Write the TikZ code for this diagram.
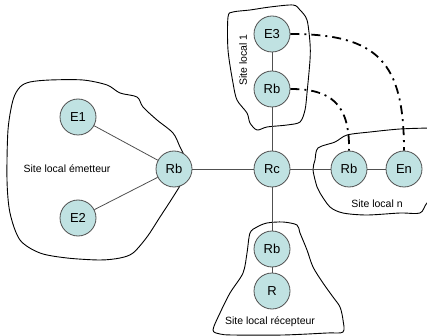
\documentclass[tikz,border=0pt]{standalone}
\usepackage{fontspec}
\setmainfont{Liberation Sans}
\definecolor{nodefill}{RGB}{192,226,226}
\definecolor{edgegray}{RGB}{80,80,80}
\tikzset{
	router/.style={circle, draw=edgegray, fill=nodefill, line width=0.8pt, minimum size=36pt, inner sep=0pt, font=\fontsize{13}{15}\selectfont},
	link/.style={draw=edgegray, line width=0.8pt},
	tunnel/.style={line width=1.8pt, dash pattern=on 9pt off 5pt on 2pt off 5pt},
	blob/.style={line width=0.9pt},
	sitelabel/.style={font=\fontsize{10.5}{12}\selectfont}
}
\begin{document}
\begin{tikzpicture}[x=1pt, y=-1pt]
	\useasboundingbox (0,0) rectangle (427,336);
	\begin{scope}
	\clip (0,0) rectangle (427,336);
	\draw[blob] plot[smooth cycle, tension=0.5] coordinates {(20,87) (30,82) (50,80) (83,80) (107,85) (120,93) (137,97) (143,107) (157,120) (173,133) (180,147) (187,163) (183,180) (173,197) (160,217) (147,237) (133,253) (120,258) (100,260) (67,258) (40,253) (20,240) (10,213) (7,180) (8,130) (13,100)};
	\draw[blob] plot[smooth cycle, tension=0.5] coordinates {(228,17) (233,12) (250,10) (270,7) (293,5) (300,10) (307,20) (310,43) (310,60) (307,93) (305,110) (300,122) (287,125) (267,127) (257,130) (250,123) (247,113) (237,100) (233,83) (228,50)};
	\draw[blob] plot[smooth, tension=0.5] coordinates {(440,128) (430,128) (400,129) (370,132) (347,135) (335,142) (318,148) (315,160) (313,170) (317,187) (320,193) (330,207) (343,213) (367,215) (400,213) (420,213) (427,203) (440,195)};
	\draw[blob] plot[smooth cycle, tension=0.5] coordinates {(250,233) (257,227) (267,223) (283,222) (297,225) (300,233) (307,250) (313,267) (323,283) (333,297) (340,307) (343,320) (343,332) (327,333) (283,335) (233,335) (220,334) (213,330) (220,313) (230,293) (243,273) (247,253)};
	\end{scope}

	\node[router] (E1) at (78,117) {E1};
	\node[router] (E2) at (78,218) {E2};
	\node[router] (RbE) at (174,169) {Rb};
	\node[router] (Rc) at (272,169) {Rc};
	\node[router] (RbN) at (349,169) {Rb};
	\node[router] (En) at (404,169) {En};
	\node[router] (E3) at (272,34) {E3};
	\node[router] (Rb1) at (272,89) {Rb};
	\node[router] (RbR) at (272,249) {Rb};
	\node[router] (R) at (272,291) {R};

	\draw[link] (E1) -- (RbE);
	\draw[link] (E2) -- (RbE);
	\draw[link] (RbE) -- (Rc);
	\draw[link] (Rc) -- (RbN);
	\draw[link] (RbN) -- (En);
	\draw[link] (Rc) -- (Rb1);
	\draw[link] (Rb1) -- (E3);
	\draw[link] (Rc) -- (RbR);
	\draw[link] (RbR) -- (R);

	\draw[tunnel] (E3.east) .. controls (378,34) and (404,62) .. (En.north);
	\draw[tunnel] (Rb1.east) .. controls (330,89) and (350,103) .. (RbN.north);

	\node[sitelabel] (lE) at (67,169) {Site local émetteur};
	\node[sitelabel, rotate=90] (l1) at (243,60) {Site local 1};
	\node[sitelabel] (ln) at (377,204) {Site local n};
	\node[sitelabel] (lR) at (270,322) {Site local récepteur};
\end{tikzpicture}
\end{document}
